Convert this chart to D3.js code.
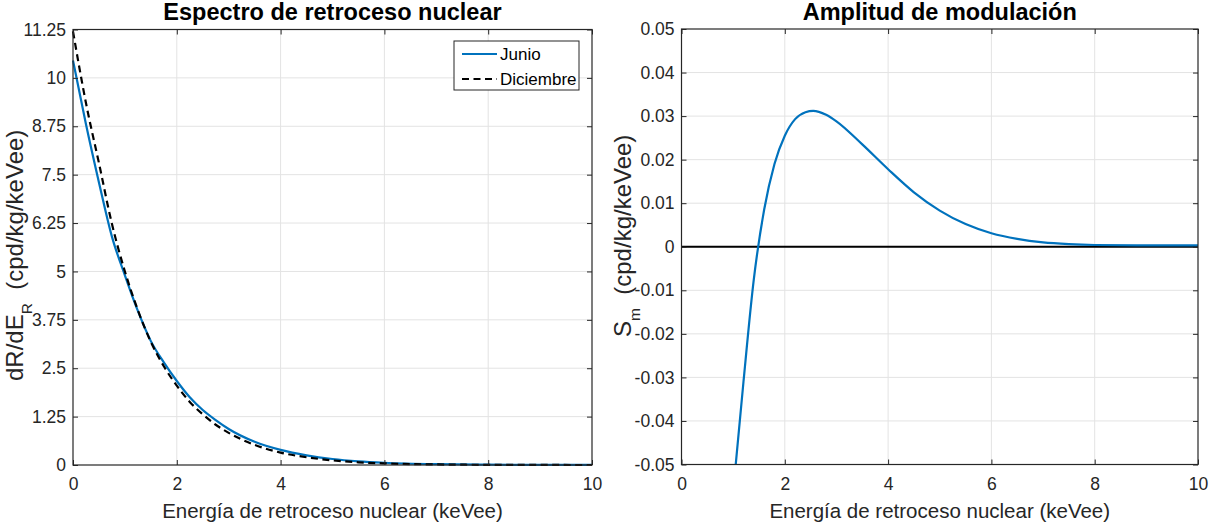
<!DOCTYPE html>
<html><head><meta charset="utf-8">
<script src="https://cdn.jsdelivr.net/npm/d3@7"></script>
<style>body{margin:0;background:#fff}svg{display:block}text{font-family:"Liberation Sans",Arial,sans-serif}</style>
</head><body><svg id="c" width="1222" height="526"></svg>
<script>
// ---- data ----
const energyA = [0,0.25,0.5,0.75,1.0,1.25,1.5,1.75,2.0,2.25,2.5,2.75,3.0,3.5,4.0,4.5,5.0,5.5,6.0,7.0,8.0,9.0,10.0];
const junio    = [10.45,8.8,7.3,5.9,4.9,3.98,3.2,2.65,2.17,1.75,1.42,1.16,0.93,0.6,0.39,0.25,0.155,0.095,0.058,0.021,0.0075,0.0026,0.0009];
const diciembre= [11.2,9.35,7.8,6.23,5.0,4.0,3.18,2.55,2.05,1.63,1.31,1.04,0.83,0.52,0.32,0.2,0.12,0.07,0.042,0.014,0.0045,0.0013,0.0004];
const energyB = [1.05,1.2,1.4,1.6,1.8,2.0,2.2,2.4,2.55,2.8,3.0,3.5,4.0,4.5,5.0,5.5,6.0,6.5,7.0,7.5,8.0,9.0,10.0];
const modAmp  = [-0.05,-0.031,-0.0075,0.0085,0.019,0.0255,0.0293,0.0309,0.0312,0.0303,0.0288,0.0235,0.0178,0.0125,0.0083,0.0052,0.0031,0.0018,0.001,0.0006,0.0004,0.0003,0.0003];
const xTicks = [0,2,4,6,8,10];
const yTicksA = [0,1.25,2.5,3.75,5,6.25,7.5,8.75,10,11.25];
const yTicksB = [-0.05,-0.04,-0.03,-0.02,-0.01,0,0.01,0.02,0.03,0.04,0.05];
const titles = ["Espectro de retroceso nuclear","Amplitud de modulación"];
const xLabel = "Energía de retroceso nuclear (keVee)";
const legendNames = ["Junio","Diciembre"];

const svg = d3.select("#c");
const blue = "#0072BD", axisCol = "#262626", gridCol = "#e3e3e3";
const DASH = "7,4.5";

function panel(x0,x1,y0,y1,ydom,yticks,yfmt){
  const x = d3.scaleLinear().domain([0,10]).range([x0,x1]);
  const y = d3.scaleLinear().domain(ydom).range([y1,y0]);
  const g = svg.append("g");
  g.append("g").selectAll("line").data(xTicks.slice(1,-1)).join("line")
    .attr("x1",d=>x(d)).attr("x2",d=>x(d)).attr("y1",y0).attr("y2",y1).attr("stroke",gridCol).attr("stroke-width",1);
  g.append("g").selectAll("line").data(yticks.slice(1,-1)).join("line")
    .attr("y1",d=>y(d)).attr("y2",d=>y(d)).attr("x1",x0).attr("x2",x1).attr("stroke",gridCol).attr("stroke-width",1);
  return {x,y,g,x0,x1,y0,y1,yfmt,yticks};
}
function frame(p){
  const {x,y,g,x0,x1,y0,y1} = p;
  const tl = 5;
  const ax = (sel,axis)=>{sel.call(axis);sel.select(".domain").remove();
    sel.selectAll(".tick line").attr("stroke",axisCol);
    sel.selectAll(".tick text").attr("fill",axisCol).style("font-size","17.5px").style("font-family","'Liberation Sans',Arial,sans-serif");};
  g.append("g").attr("transform",`translate(0,${y1})`).call(s=>ax(s,d3.axisBottom(x).tickValues(xTicks).tickSize(-tl).tickPadding(13).tickFormat(d3.format("d"))));
  g.append("g").attr("transform",`translate(0,${y0})`).call(s=>ax(s,d3.axisTop(x).tickValues(xTicks).tickSize(-tl).tickFormat("")));
  g.append("g").attr("transform",`translate(${x0},0)`).call(s=>ax(s,d3.axisLeft(y).tickValues(p.yticks).tickSize(-tl).tickPadding(7).tickFormat(p.yfmt)));
  g.append("g").attr("transform",`translate(${x1},0)`).call(s=>ax(s,d3.axisRight(y).tickValues(p.yticks).tickSize(-tl).tickFormat("")));
  g.append("rect").attr("x",x0).attr("y",y0).attr("width",x1-x0).attr("height",y1-y0)
    .attr("fill","none").attr("stroke",axisCol).attr("stroke-width",1.2);
}

// Left panel
const A = panel(73,592,29.5,465,[0,11.25],yTicksA,d=>d3.format("")(d));
const lineA = d3.line().x((d,i)=>A.x(energyA[i])).y(d=>A.y(d)).curve(d3.curveMonotoneX);
A.g.append("path").attr("d",lineA(junio)).attr("fill","none").attr("stroke",blue).attr("stroke-width",2.2);
A.g.append("path").attr("d",lineA(diciembre)).attr("fill","none").attr("stroke","#000").attr("stroke-width",2.2).attr("stroke-dasharray",DASH);
frame(A);

// Right panel
const B = panel(681.5,1198,29,464.5,[-0.05,0.05],yTicksB,d=>d===0?"0":d3.format(".2f")(d).replace("−","-"));
B.g.append("line").attr("x1",B.x(0)).attr("x2",B.x(10)).attr("y1",B.y(0)).attr("y2",B.y(0)).attr("stroke","#000").attr("stroke-width",2.2);
const lineB = d3.line().x((d,i)=>B.x(energyB[i])).y(d=>B.y(d)).curve(d3.curveMonotoneX);
B.g.append("path").attr("d",lineB(modAmp)).attr("fill","none").attr("stroke",blue).attr("stroke-width",2.2);
frame(B);

[[A,titles[0]],[B,titles[1]]].forEach(([p,t])=>{
  svg.append("text").attr("x",(p.x0+p.x1)/2).attr("y",20).attr("text-anchor","middle")
    .style("font-size","23.5px").style("font-weight","bold").attr("fill","#000").text(t);
  svg.append("text").attr("x",(p.x0+p.x1)/2).attr("y",518).attr("text-anchor","middle")
    .style("font-size","20.5px").attr("fill",axisCol).text(xLabel);
});
function ylab(x,by,main,sub){
  const t = svg.append("text").attr("transform",`translate(${x},${by}) rotate(-90)`).attr("text-anchor","start")
    .style("font-size","24px").attr("fill",axisCol).attr("xml:space","preserve").style("white-space","pre");
  t.append("tspan").text(main);
  t.append("tspan").attr("dy",9).style("font-size","15.5px").text(sub);
  t.append("tspan").attr("dy",-9).text("  (cpd/kg/keVee)");
}
ylab(23,381,"dR/dE","R");
ylab(631,337,"S","m");

const lg = svg.append("g");
lg.append("rect").attr("x",454).attr("y",41).attr("width",125).attr("height",49).attr("fill","#fff").attr("stroke",axisCol).attr("stroke-width",1);
legendNames.forEach((n,i)=>{
  const yy = 54 + i*25;
  lg.append("line").attr("x1",462).attr("x2",497).attr("y1",yy).attr("y2",yy)
    .attr("stroke",i?"#000":blue).attr("stroke-width",2.2).attr("stroke-dasharray",i?DASH:null);
  lg.append("text").attr("x",500).attr("y",yy+6).style("font-size","17px").attr("fill","#000").text(n);
});
</script></body></html>
